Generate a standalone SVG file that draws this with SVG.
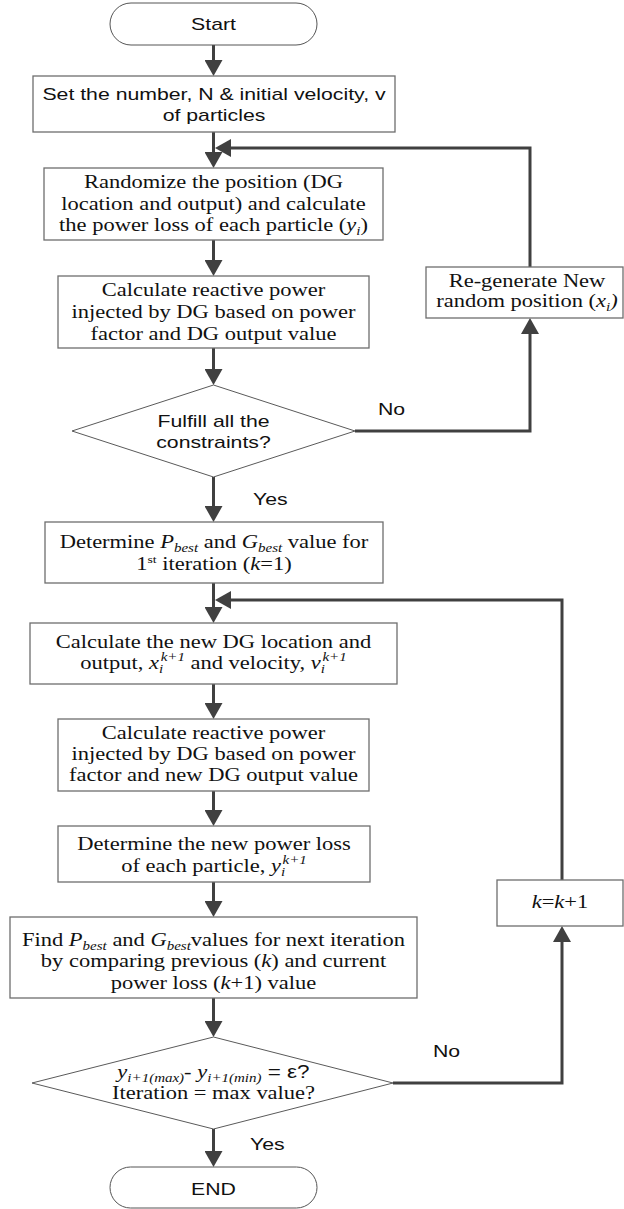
<svg xmlns="http://www.w3.org/2000/svg" width="624" height="1209" viewBox="0 0 624 1209">
<defs>
<style>
.box{fill:#fff;stroke:#6e6e6e;stroke-width:1.3}
.dia{fill:#fff;stroke:#5a5a5a;stroke-width:1}
.term{fill:#fff;stroke:#555;stroke-width:1}
.con{fill:none;stroke:#404040;stroke-width:3;stroke-linejoin:miter}
.arr{marker-end:url(#ah)}
.se{font-family:"Liberation Serif","Times New Roman",serif;font-size:18px;fill:#111;text-anchor:middle}
.sa{font-family:"Liberation Sans",Arial,sans-serif;font-size:17px;fill:#111;text-anchor:middle}
.st{text-anchor:start}
.it{font-style:italic}
.sub{font-size:12px;font-style:italic}
</style>
<marker id="ah" markerUnits="userSpaceOnUse" markerWidth="16" markerHeight="18" viewBox="0 0 16 18" refX="12" refY="9" orient="auto">
<path d="M0,0 L16,9 L0,18 z" fill="#404040"/>
</marker>
</defs>

<g id="connectors">
<path class="con arr" d="M213.5,45 V72"/>
<path class="con arr" d="M213.5,132 V164"/>
<path class="con arr" d="M530,267 V148 H219"/>
<path class="con arr" d="M213.5,240 V272"/>
<path class="con arr" d="M213.5,348 V381"/>
<path class="con arr" d="M355,431 H530 V322"/>
<path class="con arr" d="M213.5,477 V518"/>
<path class="con arr" d="M213.5,583 V619"/>
<path class="con arr" d="M562,880 V600 H219"/>
<path class="con arr" d="M213.5,684 V715"/>
<path class="con arr" d="M213.5,791 V822"/>
<path class="con arr" d="M213.5,882 V913"/>
<path class="con arr" d="M213.5,998 V1033"/>
<path class="con arr" d="M393,1083 H562 V930"/>
<path class="con arr" d="M213.5,1129 V1163"/>
<text class="sa st" transform="translate(378 0) scale(1.25 1)" x="0" y="415">No</text>
<text class="sa st" transform="translate(253 0) scale(1.25 1)" x="0" y="505">Yes</text>
<text class="sa st" transform="translate(433 0) scale(1.25 1)" x="0" y="1057">No</text>
<text class="sa st" transform="translate(250 0) scale(1.25 1)" x="0" y="1150">Yes</text>
</g>

<g id="start">
<rect class="term" x="110" y="3" width="207" height="42" rx="21"/>
<text class="sa" transform="translate(213.5 0) scale(1.25 1)" x="0" y="30">Start</text>
</g>

<g id="set-particles">
<rect class="box" x="33" y="76" width="362" height="56"/>
<text class="sa" transform="translate(214 0) scale(1.25 1)" x="0" y="100">Set the number, N &amp; initial velocity, v</text>
<text class="sa" transform="translate(214 0) scale(1.25 1)" x="0" y="121">of particles</text>
</g>

<g id="randomize">
<rect class="box" x="44" y="168" width="339" height="72"/>
<text class="se" transform="translate(213.5 0) scale(1.25 1)" x="0" y="188">Randomize the position (DG</text>
<text class="se" transform="translate(213.5 0) scale(1.25 1)" x="0" y="210">location and output) and calculate</text>
<text class="se" transform="translate(213.5 0) scale(1.25 1)" x="0" y="231.5">the power loss of each particle (<tspan class="it">y</tspan><tspan class="sub" dy="4">i</tspan><tspan dy="-4">)</tspan></text>
</g>

<g id="reactive-1">
<rect class="box" x="58" y="276" width="311" height="72"/>
<text class="se" transform="translate(213.5 0) scale(1.25 1)" x="0" y="296">Calculate reactive power</text>
<text class="se" transform="translate(213.5 0) scale(1.25 1)" x="0" y="318">injected by DG based on power</text>
<text class="se" transform="translate(213.5 0) scale(1.25 1)" x="0" y="340">factor and DG output value</text>
</g>

<g id="constraints">
<polygon class="dia" points="213.5,385 355,431 213.5,477 72,431"/>
<text class="sa" transform="translate(213.5 0) scale(1.25 1)" x="0" y="427">Fulfill all the</text>
<text class="sa" transform="translate(213.5 0) scale(1.25 1)" x="0" y="448">constraints?</text>
</g>

<g id="regenerate">
<rect class="box" x="426" y="267" width="197" height="51"/>
<text class="se" transform="translate(527 0) scale(1.25 1)" x="0" y="287">Re-generate New</text>
<text class="se" transform="translate(527 0) scale(1.25 1)" x="0" y="307">random position (<tspan class="it">x</tspan><tspan class="sub" dy="4">i</tspan><tspan class="it" dy="-4">)</tspan></text>
</g>

<g id="best-init">
<rect class="box" x="45" y="522" width="338" height="61"/>
<text class="se" transform="translate(214 0) scale(1.25 1)" x="0" y="548">Determine <tspan class="it">P</tspan><tspan class="sub" dy="4">best</tspan><tspan dy="-4"> and </tspan><tspan class="it">G</tspan><tspan class="sub" dy="4">best</tspan><tspan dy="-4"> value for</tspan></text>
<text class="se" transform="translate(214 0) scale(1.25 1)" x="0" y="570">1<tspan font-size="11" dy="-7">st</tspan><tspan dy="7"> iteration (</tspan><tspan class="it">k</tspan>=1)</text>
</g>

<g id="new-location">
<rect class="box" x="30" y="623" width="367" height="61"/>
<text class="se" transform="translate(213.5 0) scale(1.25 1)" x="0" y="648">Calculate the new DG location and</text>
<text class="se" transform="translate(213.5 0) scale(1.25 1)" x="0" y="669">output, <tspan class="it">x</tspan><tspan class="sub" dy="4">i</tspan><tspan class="sub" dx="-2" dy="-12">k+1</tspan><tspan dy="8"> and velocity, </tspan><tspan class="it">v</tspan><tspan class="sub" dy="4">i</tspan><tspan class="sub" dx="-2" dy="-12">k+1</tspan></text>
</g>

<g id="reactive-2">
<rect class="box" x="58" y="719" width="311" height="72"/>
<text class="se" transform="translate(213.5 0) scale(1.25 1)" x="0" y="739">Calculate reactive power</text>
<text class="se" transform="translate(213.5 0) scale(1.25 1)" x="0" y="760">injected by DG based on power</text>
<text class="se" transform="translate(213.5 0) scale(1.25 1)" x="0" y="781">factor and new DG output value</text>
</g>

<g id="new-loss">
<rect class="box" x="58" y="826" width="312" height="56"/>
<text class="se" transform="translate(214 0) scale(1.25 1)" x="0" y="850">Determine the new power loss</text>
<text class="se" transform="translate(214 0) scale(1.25 1)" x="0" y="872">of each particle, <tspan class="it">y</tspan><tspan class="sub" dy="4">i</tspan><tspan class="sub" dx="-2" dy="-12">k+1</tspan></text>
</g>

<g id="find-best">
<rect class="box" x="10" y="917" width="407" height="81"/>
<text class="se" transform="translate(213.5 0) scale(1.25 1)" x="0" y="946">Find <tspan class="it">P</tspan><tspan class="sub" dy="4">best</tspan><tspan dy="-4"> and </tspan><tspan class="it">G</tspan><tspan class="sub" dy="4">best</tspan><tspan dy="-4">values for next iteration</tspan></text>
<text class="se" transform="translate(213.5 0) scale(1.25 1)" x="0" y="967">by comparing previous (<tspan class="it">k</tspan>) and current</text>
<text class="se" transform="translate(213.5 0) scale(1.25 1)" x="0" y="989">power loss (<tspan class="it">k</tspan>+1) value</text>
</g>

<g id="convergence">
<polygon class="dia" points="213.5,1037 393,1083 213.5,1129 32,1083"/>
<text class="se" transform="translate(213.5 0) scale(1.25 1)" x="0" y="1078"><tspan class="it">y</tspan><tspan class="sub" dy="4">i+1(max)</tspan><tspan dy="-4">- </tspan><tspan class="it">y</tspan><tspan class="sub" dy="4">i+1(min)</tspan><tspan dy="-4" font-family="Liberation Sans, Arial, sans-serif" font-size="18"> = ε?</tspan></text>
<text class="se" transform="translate(213.5 0) scale(1.25 1)" x="0" y="1099">Iteration = max value?</text>
</g>

<g id="increment">
<rect class="box" x="497" y="880" width="126" height="46"/>
<text class="se" transform="translate(560 0) scale(1.25 1)" x="0" y="908"><tspan class="it">k</tspan>=<tspan class="it">k</tspan>+1</text>
</g>

<g id="end">
<rect class="term" x="110" y="1167" width="207" height="41" rx="20.5"/>
<text class="sa" transform="translate(213.5 0) scale(1.25 1)" x="0" y="1195">END</text>
</g>
</svg>
